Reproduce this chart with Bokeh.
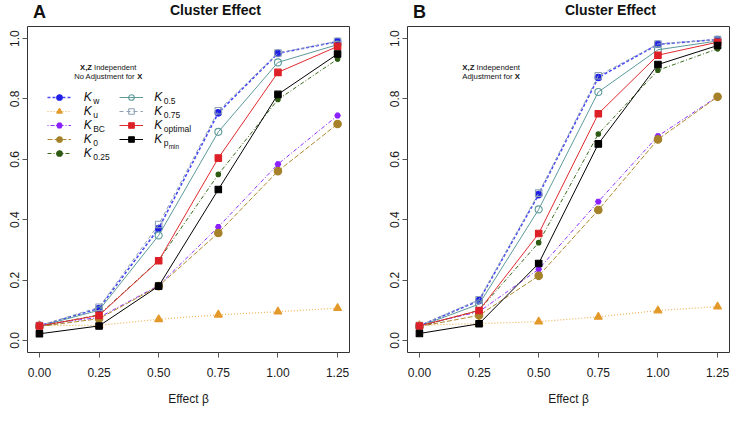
from bokeh.plotting import figure
from bokeh.models import Label, Legend, LegendItem, FixedTicker, NumeralTickFormatter, Range1d
from bokeh.layouts import row, column
from bokeh.embed import file_html
from bokeh.resources import INLINE

# ---------------- data ----------------
effect = [0.0, 0.25, 0.5, 0.75, 1.0, 1.25]
x_ticks = [0.0, 0.25, 0.5, 0.75, 1.0, 1.25]
y_ticks = [0.0, 0.2, 0.4, 0.6, 0.8, 1.0]
series_names = ["Kw", "Ku", "KBC", "K0", "K0.25", "K0.5", "K0.75", "Koptimal", "Kpmin"]

# Panel A: No adjustment for X
A_Kw = [0.048, 0.106, 0.371, 0.754, 0.951, 0.990]
A_Ku = [0.050, 0.050, 0.070, 0.085, 0.095, 0.107]
A_KBC = [0.052, 0.076, 0.182, 0.376, 0.584, 0.745]
A_K0 = [0.046, 0.072, 0.180, 0.356, 0.561, 0.717]
A_K025 = [0.046, 0.085, 0.265, 0.550, 0.798, 0.932]
A_K05 = [0.047, 0.100, 0.348, 0.691, 0.921, 0.980]
A_K075 = [0.049, 0.110, 0.384, 0.761, 0.952, 0.991]
A_Kopt = [0.048, 0.083, 0.264, 0.604, 0.888, 0.974]
A_Kpmin = [0.022, 0.048, 0.180, 0.500, 0.815, 0.949]

# Panel B: Adjustment for X
B_Kw = [0.048, 0.132, 0.483, 0.871, 0.981, 0.997]
B_Ku = [0.050, 0.056, 0.062, 0.078, 0.099, 0.112]
B_KBC = [0.050, 0.095, 0.236, 0.460, 0.677, 0.808]
B_K0 = [0.046, 0.083, 0.214, 0.432, 0.666, 0.807]
B_K025 = [0.046, 0.100, 0.324, 0.684, 0.895, 0.966]
B_K05 = [0.047, 0.120, 0.434, 0.823, 0.963, 0.992]
B_K075 = [0.049, 0.135, 0.488, 0.877, 0.982, 0.997]
B_Kopt = [0.048, 0.099, 0.354, 0.751, 0.945, 0.988]
B_Kpmin = [0.023, 0.055, 0.255, 0.651, 0.914, 0.977]

A_series = [A_Kw, A_Ku, A_KBC, A_K0, A_K025, A_K05, A_K075, A_Kopt, A_Kpmin]
B_series = [B_Kw, B_Ku, B_KBC, B_K0, B_K025, B_K05, B_K075, B_Kopt, B_Kpmin]

# ---------------- styles ----------------
FONT = "Liberation Sans"
STY = {
    "Kw":       dict(lc="#4a4af2", dash="3 2", lw=1.6, m="circle", mc="#1f1fe8", fill=True, ms=6.5),
    "Ku":       dict(lc="#f0b45a", dash="1 2", lw=1.2, m="triangle", mc="#e3992a", fill=True, ms=8),
    "KBC":      dict(lc="#9030ff", dash="1 2 4 2", lw=1.0, m="hex", mc="#8a1fff", fill=True, ms=5.5),
    "K0":       dict(lc="#b08a30", dash="5 2", lw=1.0, m="circle", mc="#a5812a", fill=True, ms=7.5),
    "K0.25":    dict(lc="#3a6a1a", dash="4 2 1 2", lw=1.0, m="circle", mc="#2d5a12", fill=True, ms=4.5),
    "K0.5":     dict(lc="#5e9a9a", dash="solid", lw=1.0, m="circle", mc="#5e9a9a", fill=False, ms=7),
    "K0.75":    dict(lc="#8fa3b5", dash="4 3", lw=1.0, m="square", mc="#8fa3b5", fill=False, ms=6.5),
    "Koptimal": dict(lc="#e02a30", dash="solid", lw=1.0, m="square", mc="#dd2027", fill=True, ms=6.5),
    "Kpmin":    dict(lc="#000000", dash="solid", lw=1.0, m="square", mc="#000000", fill=True, ms=6.5),
}
SUBS = {"Kw": ("w", None), "Ku": ("u", None), "KBC": ("BC", None), "K0": ("0", None),
        "K0.25": ("0.25", None), "K0.5": ("0.5", None), "K0.75": ("0.75", None),
        "Koptimal": ("optimal", None), "Kpmin": ("p", "min")}

HEAD_H = 25
MAIN_H = 408 - HEAD_H


def lab(p, x, y, text, size, style="normal", align="left", baseline="middle", color="#111111"):
    p.add_layout(Label(x=x, y=y, x_units="screen", y_units="screen", text=text,
                       text_font=FONT, text_font_size=f"{size}px", text_font_style=style,
                       text_align=align, text_baseline=baseline, text_color=color))


def make_header(letter, left, right):
    h = figure(width=365, height=HEAD_H, output_backend="svg", toolbar_location=None,
               x_range=Range1d(0, 1), y_range=Range1d(0, 1),
               min_border_left=0, min_border_right=0, min_border_top=0, min_border_bottom=0)
    h.axis.visible = False
    h.xgrid.visible = False
    h.ygrid.visible = False
    h.outline_line_color = None
    fw = 365 - left - right
    lab(h, left + fw / 2, HEAD_H - 9.3, "Cluster Effect", 14, "bold", "center")
    lab(h, 12, HEAD_H - 11.5, letter, 18, "bold", "center")
    return h


def make_panel(series, left, right):
    p = figure(width=365, height=MAIN_H, output_backend="svg", toolbar_location=None,
               x_range=Range1d(-0.05, 1.30), y_range=Range1d(-0.04, 1.04),
               min_border_left=left, min_border_right=right,
               min_border_top=1, min_border_bottom=55)
    p.xgrid.visible = False
    p.ygrid.visible = False
    p.outline_line_color = "#333333"
    p.outline_line_width = 1
    p.background_fill_color = "white"

    for ax in (p.xaxis[0], p.yaxis[0]):
        ax.axis_line_color = None
        ax.major_tick_line_color = "#555555"
        ax.major_tick_out = 5
        ax.major_tick_in = 0
        ax.minor_tick_line_color = None
        ax.major_label_text_font = FONT
        ax.major_label_text_font_size = "12px"
        ax.major_label_text_color = "#1a1a1a"
    p.xaxis.ticker = FixedTicker(ticks=x_ticks)
    p.xaxis.formatter = NumeralTickFormatter(format="0.00")
    p.xaxis.major_label_standoff = 10
    p.xaxis.axis_label = "Effect β"
    p.xaxis.axis_label_text_font = FONT
    p.xaxis.axis_label_text_font_size = "12px"
    p.xaxis.axis_label_text_font_style = "normal"
    p.xaxis.axis_label_text_color = "#1a1a1a"
    p.xaxis.axis_label_standoff = 12
    p.yaxis.ticker = FixedTicker(ticks=y_ticks)
    p.yaxis.formatter = NumeralTickFormatter(format="0.0")
    p.yaxis.major_label_orientation = "vertical"
    p.yaxis.major_label_standoff = 3

    rends = {}
    for name, ys in zip(series_names, series):
        s = STY[name]
        lr = p.line(effect, ys, line_color=s["lc"], line_dash=s["dash"], line_width=s["lw"])
        sr = p.scatter(effect, ys, marker=s["m"], size=s["ms"], line_color=s["mc"], line_width=1.1,
                       fill_color=s["mc"] if s["fill"] else None)
        rends[name] = [lr, sr]
    return p, rends


# ---------------- panel A ----------------
hA = make_header("A", 27, 16)
pA, rA = make_panel(A_series, 27, 16)
f = 7.6
x1 = 80.7 - 7.394 * f / 2
lab(pA, x1, 285, "X,Z", f, "bold")
lab(pA, x1 + 1.834 * f, 285, "Independent", f)
x2 = 80.7 - 8.948 * f / 2
lab(pA, x2, 276, "No Adjustment for", f)
lab(pA, x2 + 8.281 * f, 276, "X", f, "bold")

col1 = series_names[:5]
col2 = series_names[5:]
row_h = 14
top = 261.6
for names, lx, tx in ((col1, 20, 56.2), (col2, 92.4, 126.7)):
    items = [LegendItem(label=" ", renderers=rA[n]) for n in names]
    leg = Legend(items=items, location=(lx, top - row_h * len(names)), glyph_width=24,
                 glyph_height=row_h, label_height=row_h, label_width=1, spacing=0,
                 padding=0, margin=0, border_line_color=None, background_fill_alpha=0,
                 label_text_font_size="1px", label_standoff=0)
    pA.add_layout(leg)
    for i, n in enumerate(names):
        yc = top - row_h / 2 - row_h * i
        sub, subsub = SUBS[n]
        lab(pA, tx, yc + 1, "K", 12, "italic")
        lab(pA, tx + 9.5, yc - 3.5, sub, 8.5)
        if subsub:
            lab(pA, tx + 9.5 + 5, yc - 6.5, subsub, 6.5)

# ---------------- panel B ----------------
hB = make_header("B", 42, 1)
pB, rB = make_panel(B_series, 42, 1)
f = 7.8
lab(pB, 54.8, 285, "X,Z", f, "bold")
lab(pB, 54.8 + 1.834 * f, 285, "Independent", f)
lab(pB, 54.8, 276, "Adjustment for", f)
lab(pB, 54.8 + 6.725 * f, 276, "X", f, "bold")

layout = row(column(hA, pA), column(hB, pB))
open("out.html", "w").write(file_html(layout, INLINE))
